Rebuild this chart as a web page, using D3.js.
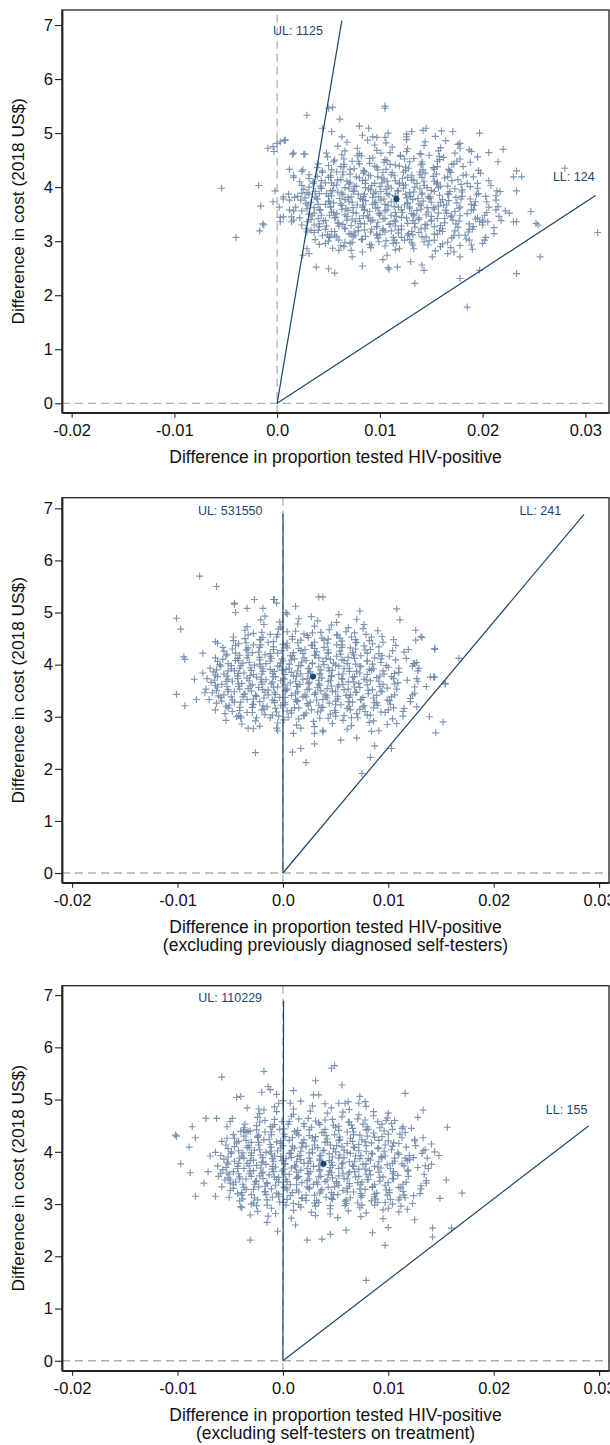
<!DOCTYPE html>
<html><head><meta charset="utf-8">
<script src="https://cdn.jsdelivr.net/npm/d3@7"></script>
<style>
body{margin:0;background:#fff}
svg{display:block}
text{font-family:"Liberation Sans",Arial,Helvetica,sans-serif}
</style>
</head><body>
<svg id="chart" width="610" height="1445"></svg>
<script>
// ---------------- DATA ----------------
const yTicks = [0,1,2,3,4,5,6,7];
const xTicks = [-0.02,-0.01,0,0.01,0.02,0.03];
const xTickLabels = ["-0.02","-0.01","0.0","0.01","0.02","0.03"];
const yTitle = "Difference in cost (2018 US$)";
const xTitles = [
  ["Difference in proportion tested HIV-positive"],
  ["Difference in proportion tested HIV-positive","(excluding previously diagnosed self-testers)"],
  ["Difference in proportion tested HIV-positive","(excluding self-testers on treatment)"]
];
const ulValues = [1125, 531550, 110229];
const llValues = [124, 241, 155];
const ulTopY = [7.08, 6.90, 6.89];        // cost value where the UL ray ends
const llEndX = [0.0310, 0.02857, 0.0290]; // effect value where the LL ray ends
const means = [[0.0116,3.78],[0.00286,3.77],[0.00385,3.77]];

// bootstrap replicates, panel 1
const p1 = [
[.0054,2.87],[.0072,2.83],[.0091,2.88],[.0115,2.84],[.0133,2.86],[.0154,2.82],[.0169,2.88],[.0190,2.85],
[.0047,2.96],[.0062,2.92],[.0073,2.98],[.0090,2.94],[.0105,2.91],[.0116,2.97],[.0132,2.93],[.0143,2.99],[.0161,2.95],[.0178,2.92],[.0200,2.96],
[.0037,3.03],[.0051,3.07],[.0060,3.02],[.0074,3.08],[.0083,3.04],[.0098,3.06],[.0106,3.01],[.0121,3.07],[.0129,3.03],[.0145,3.08],[.0153,3.02],[.0170,3.06],[.0184,3.04],[.0203,3.07],
[.0036,3.16],[.0049,3.12],[.0056,3.18],[.0070,3.14],[.0076,3.11],[.0091,3.17],[.0097,3.13],[.0111,3.19],[.0118,3.15],[.0132,3.12],[.0138,3.16],[.0153,3.13],[.0161,3.18],[.0177,3.11],[.0186,3.17],[.0211,3.14],
[.0028,3.23],[.0041,3.27],[.0047,3.22],[.0060,3.28],[.0066,3.24],[.0079,3.26],[.0085,3.21],[.0097,3.27],[.0103,3.23],[.0115,3.28],[.0121,3.22],[.0134,3.26],[.0140,3.24],[.0153,3.27],[.0161,3.23],[.0176,3.26],[.0187,3.22],[.0211,3.25],
[.0029,3.36],[.0041,3.32],[.0047,3.38],[.0059,3.34],[.0064,3.31],[.0076,3.37],[.0081,3.33],[.0093,3.39],[.0098,3.35],[.0110,3.32],[.0115,3.36],[.0127,3.33],[.0132,3.38],[.0144,3.31],[.0150,3.37],[.0163,3.34],[.0171,3.39],[.0187,3.32],[.0200,3.35],[.0218,3.38],
[.0022,3.43],[.0034,3.47],[.0040,3.42],[.0051,3.48],[.0057,3.44],[.0068,3.46],[.0073,3.41],[.0084,3.47],[.0089,3.43],[.0100,3.48],[.0105,3.42],[.0116,3.46],[.0121,3.44],[.0133,3.47],[.0138,3.43],[.0150,3.46],[.0156,3.42],[.0169,3.45],[.0178,3.47],[.0195,3.43],[.0216,3.46],
[.0024,3.56],[.0036,3.52],[.0042,3.58],[.0053,3.54],[.0058,3.51],[.0069,3.57],[.0074,3.53],[.0085,3.59],[.0090,3.55],[.0100,3.52],[.0105,3.56],[.0115,3.53],[.0121,3.58],[.0131,3.51],[.0136,3.57],[.0147,3.54],[.0153,3.59],[.0165,3.52],[.0173,3.55],[.0189,3.58],[.0204,3.53],[.0222,3.56],
[.0018,3.63],[.0030,3.67],[.0036,3.62],[.0047,3.68],[.0052,3.64],[.0063,3.66],[.0067,3.61],[.0078,3.67],[.0083,3.63],[.0093,3.68],[.0098,3.62],[.0108,3.66],[.0114,3.64],[.0124,3.67],[.0129,3.63],[.0140,3.66],[.0146,3.62],[.0157,3.65],[.0165,3.67],[.0178,3.63],[.0192,3.66],[.0215,3.64],
[.0023,3.76],[.0033,3.72],[.0039,3.78],[.0050,3.74],[.0055,3.71],[.0066,3.77],[.0070,3.73],[.0081,3.79],[.0086,3.75],[.0096,3.72],[.0101,3.76],[.0111,3.73],[.0116,3.78],[.0127,3.71],[.0132,3.77],[.0142,3.74],[.0148,3.79],[.0159,3.72],[.0167,3.75],[.0179,3.78],[.0193,3.73],[.0213,3.76],
[.0020,3.83],[.0031,3.87],[.0037,3.82],[.0048,3.88],[.0053,3.84],[.0064,3.86],[.0069,3.81],[.0079,3.87],[.0084,3.83],[.0094,3.88],[.0099,3.82],[.0109,3.86],[.0115,3.84],[.0125,3.87],[.0130,3.83],[.0141,3.86],[.0147,3.82],[.0158,3.85],[.0167,3.87],[.0180,3.83],[.0194,3.86],[.0213,3.84],
[.0026,3.96],[.0037,3.92],[.0043,3.98],[.0054,3.94],[.0059,3.91],[.0070,3.97],[.0075,3.93],[.0086,3.99],[.0091,3.95],[.0101,3.92],[.0106,3.96],[.0117,3.93],[.0123,3.98],[.0133,3.91],[.0139,3.97],[.0150,3.94],[.0157,3.99],[.0168,3.92],[.0180,3.95],[.0195,3.98],[.0214,3.93],
[.0024,4.03],[.0035,4.07],[.0042,4.02],[.0053,4.08],[.0058,4.04],[.0070,4.06],[.0075,4.01],[.0086,4.07],[.0092,4.03],[.0102,4.08],[.0108,4.02],[.0119,4.06],[.0125,4.04],[.0136,4.07],[.0143,4.03],[.0155,4.06],[.0166,4.02],[.0179,4.05],[.0195,4.07],[.0208,4.03],
[.0031,4.16],[.0043,4.12],[.0050,4.18],[.0062,4.14],[.0068,4.11],[.0080,4.17],[.0086,4.13],[.0098,4.19],[.0104,4.15],[.0115,4.12],[.0122,4.16],[.0133,4.13],[.0141,4.18],[.0153,4.11],[.0163,4.17],[.0176,4.14],[.0191,4.19],[.0206,4.12],
[.0031,4.23],[.0044,4.27],[.0052,4.22],[.0064,4.28],[.0071,4.24],[.0084,4.26],[.0091,4.21],[.0103,4.27],[.0111,4.23],[.0123,4.28],[.0131,4.22],[.0144,4.26],[.0155,4.24],[.0169,4.27],[.0184,4.23],[.0198,4.26],
[.0039,4.36],[.0053,4.32],[.0062,4.38],[.0075,4.34],[.0084,4.31],[.0097,4.37],[.0106,4.33],[.0119,4.39],[.0128,4.35],[.0142,4.32],[.0152,4.36],[.0167,4.33],[.0181,4.38],[.0196,4.31],
[.0040,4.43],[.0055,4.47],[.0065,4.42],[.0079,4.48],[.0090,4.44],[.0104,4.46],[.0115,4.41],[.0129,4.47],[.0141,4.43],[.0156,4.48],[.0170,4.42],[.0188,4.46],
[.0049,4.56],[.0065,4.52],[.0078,4.58],[.0093,4.54],[.0105,4.51],[.0120,4.57],[.0133,4.53],[.0148,4.59],[.0162,4.55],[.0178,4.52],[.0195,4.56],
[.0048,4.63],[.0066,4.67],[.0080,4.62],[.0097,4.68],[.0110,4.64],[.0126,4.66],[.0140,4.61],[.0157,4.67],[.0173,4.63],[.0189,4.66],
[.0059,4.76],[.0078,4.72],[.0095,4.78],[.0112,4.74],[.0127,4.71],[.0143,4.77],[.0159,4.73],[.0176,4.79],
[.0068,4.83],[.0088,4.87],[.0106,4.82],[.0126,4.88],[.0144,4.84],[.0164,4.86],
[.0083,4.96],[.0105,4.92],[.0126,4.98],[.0154,4.94],
[.0050,3.00],[.0066,2.98],[.0082,3.03],[.0099,2.99],[.0114,3.02],[.0131,2.97],[.0148,3.01],[.0166,2.98],
[.0044,3.10],[.0058,3.08],[.0072,3.13],[.0086,3.09],[.0100,3.12],[.0113,3.07],[.0127,3.11],[.0141,3.08],[.0156,3.13],[.0172,3.10],
[.0040,3.20],[.0053,3.18],[.0066,3.23],[.0079,3.19],[.0092,3.22],[.0105,3.17],[.0118,3.21],[.0131,3.18],[.0144,3.23],[.0158,3.20],[.0173,3.19],[.0190,3.22],
[.0036,3.30],[.0048,3.28],[.0060,3.33],[.0072,3.29],[.0085,3.32],[.0097,3.27],[.0109,3.31],[.0121,3.28],[.0134,3.33],[.0146,3.30],[.0159,3.29],[.0174,3.32],[.0191,3.27],
[.0033,3.40],[.0045,3.38],[.0056,3.43],[.0068,3.39],[.0080,3.42],[.0091,3.37],[.0103,3.41],[.0114,3.38],[.0126,3.43],[.0138,3.40],[.0150,3.39],[.0163,3.42],[.0177,3.37],[.0193,3.41],
[.0031,3.50],[.0043,3.48],[.0055,3.53],[.0066,3.49],[.0077,3.52],[.0088,3.47],[.0099,3.51],[.0111,3.48],[.0122,3.53],[.0133,3.50],[.0145,3.49],[.0157,3.52],[.0170,3.47],[.0185,3.51],[.0202,3.48],
[.0029,3.60],[.0041,3.58],[.0052,3.63],[.0063,3.59],[.0074,3.62],[.0085,3.57],[.0096,3.61],[.0107,3.58],[.0118,3.63],[.0129,3.60],[.0140,3.59],[.0152,3.62],[.0164,3.57],[.0177,3.61],[.0191,3.58],[.0206,3.63],
[.0028,3.70],[.0040,3.68],[.0051,3.73],[.0062,3.69],[.0073,3.72],[.0084,3.67],[.0095,3.71],[.0105,3.68],[.0116,3.73],[.0127,3.70],[.0138,3.69],[.0150,3.72],[.0162,3.67],[.0175,3.71],[.0189,3.68],[.0204,3.73],
[.0027,3.80],[.0039,3.78],[.0050,3.83],[.0061,3.79],[.0072,3.82],[.0083,3.77],[.0093,3.81],[.0104,3.78],[.0115,3.83],[.0126,3.80],[.0137,3.79],[.0149,3.82],[.0161,3.77],[.0174,3.81],[.0188,3.78],[.0203,3.83],
[.0029,3.90],[.0041,3.88],[.0052,3.93],[.0063,3.89],[.0074,3.92],[.0085,3.87],[.0096,3.91],[.0107,3.88],[.0118,3.93],[.0129,3.90],[.0141,3.89],[.0153,3.92],[.0166,3.87],[.0180,3.91],[.0196,3.88],
[.0031,4.00],[.0043,3.98],[.0055,4.03],[.0066,3.99],[.0077,4.02],[.0089,3.97],[.0100,4.01],[.0111,3.98],[.0123,4.03],[.0134,4.00],[.0146,3.99],[.0159,4.02],[.0173,3.97],[.0188,4.01],
[.0035,4.10],[.0047,4.08],[.0059,4.13],[.0071,4.09],[.0083,4.12],[.0095,4.07],[.0107,4.11],[.0119,4.08],[.0131,4.13],[.0143,4.10],[.0156,4.09],[.0170,4.12],[.0185,4.07],
[.0039,4.20],[.0052,4.18],[.0064,4.23],[.0077,4.19],[.0089,4.22],[.0102,4.17],[.0114,4.21],[.0127,4.18],[.0139,4.23],[.0152,4.20],[.0166,4.19],[.0181,4.22],
[.0044,4.30],[.0058,4.28],[.0071,4.33],[.0085,4.29],[.0098,4.32],[.0112,4.27],[.0125,4.31],[.0139,4.28],[.0153,4.33],[.0168,4.30],
[.0050,4.40],[.0065,4.38],[.0080,4.43],[.0095,4.39],[.0110,4.42],[.0125,4.37],[.0140,4.41],[.0156,4.38],[.0172,4.43],
[.0056,4.50],[.0073,4.48],[.0090,4.53],[.0107,4.49],[.0124,4.52],[.0141,4.47],[.0158,4.51],[.0175,4.48],
[.0063,4.60],[.0082,4.58],[.0101,4.63],[.0120,4.59],[.0139,4.62],[.0158,4.57],
[.0029,5.33],[.0050,5.46],[.0054,5.48],[.0061,5.26],[.0105,5.50],[.0105,5.46],[.0080,5.13],[.0089,5.09],[.0044,5.09],[.0053,5.03],[.0197,5.00],[.0171,5.03],[.0160,5.04],[.0145,5.09],[.0142,5.05],[.0131,5.03],[.0126,4.93],[.0108,5.00],[.0093,4.93],[.0097,4.92],[.0063,4.93],[.0007,4.87],[.0000,4.81],[.0016,4.63],[.0027,4.61],[.0220,4.70],[.0206,4.64],[.0215,4.47],[.0187,4.69],[.0178,4.81],[.0178,4.72],[.0230,4.19],[.0238,4.19],[.0233,4.30],[.0280,4.35],[.0233,3.93],[.0247,3.55],[.0226,3.52],[.0230,3.36],[.0252,3.33],[.0213,3.58],[.0217,3.92],[.0200,3.39],[.0205,3.36],[.0012,3.76],[.0006,3.82],[.0012,3.58],[.0016,3.39],
[-.0054,3.98],[-.0018,4.03],[-.0016,3.65],[-.0014,3.32],[-.0009,4.72],[-.0004,4.75],[-.0003,4.66],[.0003,4.84],[.0008,4.87],[-.0002,3.93],[-.0004,3.73],[.0002,3.63],[.0006,3.78],[.0011,3.87],[.0017,3.81],[.0016,3.56],[.0014,3.45],[.0003,3.44],[.0006,3.45],[.0012,4.33],[.0016,4.18],[.0016,4.21],[.0015,4.61],[.0024,4.29],[.0025,4.32],[.0022,4.10],[.0024,3.89],[.0026,4.61],
[-.0040,3.07],[-.0017,3.19],[-.0013,3.30],[.0003,3.36],[.0014,3.36],[.0024,3.30],[.0029,3.17],[.0033,3.20],[.0029,2.86],[.0031,2.77],[.0025,2.74],[.0038,2.52],[.0050,2.49],[.0056,2.41],[.0041,2.94],[.0051,3.08],[.0056,3.11],[.0060,2.83],[.0065,2.90],[.0071,2.96],[.0075,3.17],[.0083,2.80],[.0073,2.71],[.0083,2.54],[.0092,2.93],[.0097,3.11],[.0103,3.20],[.0103,2.66],[.0107,2.74],[.0108,2.51],[.0109,2.48],[.0117,2.52],[.0113,2.96],[.0119,2.86],[.0124,3.02],[.0128,3.14],[.0130,2.62],[.0134,2.22],[.0141,2.56],[.0143,2.46],[.0147,2.93],[.0151,2.71],[.0159,2.90],[.0166,2.77],[.0172,2.80],[.0178,2.71],[.0178,2.31],[.0185,1.78],[.0187,3.02],[.0189,2.93],[.0183,3.11],[.0200,3.30],[.0202,3.02],[.0197,3.36],[.0197,2.46],[.0233,3.36],[.0233,2.40],[.0254,3.30],[.0256,2.71],[.0312,3.16]
];

// bootstrap replicates, panel 2
const p2 = [
[-.0028,2.77],[-.0005,2.73],[.0017,2.78],[.0038,2.74],[.0061,2.76],[.0084,2.72],
[-.0039,2.86],[-.0022,2.82],[-.0005,2.88],[.0013,2.84],[.0030,2.81],[.0047,2.87],[.0065,2.83],[.0082,2.89],[.0099,2.85],
[-.0054,2.93],[-.0040,2.97],[-.0026,2.92],[-.0012,2.98],[.0001,2.94],[.0015,2.96],[.0029,2.91],[.0043,2.97],[.0057,2.93],[.0071,2.98],[.0086,2.92],[.0104,2.96],
[-.0055,3.06],[-.0042,3.02],[-.0029,3.08],[-.0017,3.04],[-.0004,3.01],[.0008,3.07],[.0020,3.03],[.0033,3.09],[.0045,3.05],[.0058,3.02],[.0070,3.06],[.0083,3.03],[.0097,3.08],[.0114,3.01],
[-.0064,3.13],[-.0052,3.17],[-.0041,3.12],[-.0029,3.18],[-.0018,3.14],[-.0007,3.16],[.0004,3.11],[.0015,3.17],[.0027,3.13],[.0038,3.18],[.0049,3.12],[.0061,3.16],[.0073,3.14],[.0086,3.17],[.0100,3.13],[.0115,3.16],
[-.0063,3.26],[-.0051,3.22],[-.0040,3.28],[-.0029,3.24],[-.0019,3.21],[-.0008,3.27],[.0002,3.23],[.0013,3.29],[.0023,3.25],[.0034,3.22],[.0044,3.26],[.0055,3.23],[.0066,3.28],[.0077,3.21],[.0089,3.27],[.0102,3.24],[.0121,3.29],
[-.0070,3.33],[-.0059,3.37],[-.0048,3.32],[-.0038,3.38],[-.0028,3.34],[-.0018,3.36],[-.0008,3.31],[.0002,3.37],[.0012,3.33],[.0022,3.38],[.0032,3.32],[.0042,3.36],[.0052,3.34],[.0063,3.37],[.0074,3.33],[.0086,3.36],[.0099,3.32],[.0121,3.35],
[-.0067,3.46],[-.0056,3.42],[-.0046,3.48],[-.0036,3.44],[-.0026,3.41],[-.0017,3.47],[-.0007,3.43],[.0002,3.49],[.0012,3.45],[.0021,3.42],[.0031,3.46],[.0040,3.43],[.0050,3.48],[.0060,3.41],[.0070,3.47],[.0081,3.44],[.0093,3.49],[.0106,3.42],[.0125,3.45],
[-.0073,3.53],[-.0062,3.57],[-.0052,3.52],[-.0042,3.58],[-.0033,3.54],[-.0023,3.56],[-.0014,3.51],[-.0005,3.57],[.0004,3.53],[.0014,3.58],[.0023,3.52],[.0033,3.56],[.0042,3.54],[.0052,3.57],[.0062,3.53],[.0073,3.56],[.0085,3.52],[.0099,3.55],[.0125,3.57],
[-.0068,3.66],[-.0058,3.62],[-.0048,3.68],[-.0039,3.64],[-.0029,3.61],[-.0020,3.67],[-.0011,3.63],[-.0002,3.69],[.0007,3.65],[.0016,3.62],[.0025,3.66],[.0034,3.63],[.0043,3.68],[.0053,3.61],[.0062,3.67],[.0072,3.64],[.0083,3.69],[.0095,3.62],[.0109,3.65],[.0128,3.68],
[-.0072,3.73],[-.0062,3.77],[-.0052,3.72],[-.0043,3.78],[-.0034,3.74],[-.0025,3.76],[-.0016,3.71],[-.0007,3.77],[.0001,3.73],[.0010,3.78],[.0019,3.72],[.0028,3.76],[.0037,3.74],[.0046,3.77],[.0056,3.73],[.0066,3.76],[.0077,3.72],[.0089,3.75],[.0103,3.77],[.0127,3.73],
[-.0066,3.86],[-.0056,3.82],[-.0046,3.88],[-.0037,3.84],[-.0028,3.81],[-.0019,3.87],[-.0010,3.83],[-.0001,3.89],[.0008,3.85],[.0017,3.82],[.0026,3.86],[.0035,3.83],[.0044,3.88],[.0053,3.81],[.0063,3.87],[.0073,3.84],[.0084,3.89],[.0096,3.82],[.0110,3.85],[.0128,3.88],
[-.0069,3.93],[-.0059,3.97],[-.0049,3.92],[-.0040,3.98],[-.0031,3.94],[-.0021,3.96],[-.0012,3.91],[-.0003,3.97],[.0006,3.93],[.0015,3.98],[.0024,3.92],[.0034,3.96],[.0043,3.94],[.0053,3.97],[.0063,3.93],[.0074,3.96],[.0086,3.92],[.0100,3.95],[.0123,3.97],
[-.0062,4.06],[-.0052,4.02],[-.0042,4.08],[-.0032,4.04],[-.0022,4.01],[-.0012,4.07],[-.0002,4.03],[.0008,4.09],[.0018,4.05],[.0028,4.02],[.0038,4.06],[.0048,4.03],[.0058,4.08],[.0069,4.01],[.0080,4.07],[.0093,4.04],[.0107,4.09],[.0124,4.02],
[-.0064,4.13],[-.0054,4.17],[-.0043,4.12],[-.0033,4.18],[-.0022,4.14],[-.0012,4.16],[-.0001,4.11],[.0009,4.17],[.0020,4.13],[.0030,4.18],[.0041,4.12],[.0051,4.16],[.0062,4.14],[.0074,4.17],[.0087,4.13],[.0101,4.16],[.0117,4.12],
[-.0056,4.26],[-.0045,4.22],[-.0034,4.28],[-.0023,4.24],[-.0012,4.21],[-.0001,4.27],[.0010,4.23],[.0021,4.29],[.0032,4.25],[.0043,4.22],[.0054,4.26],[.0066,4.23],[.0078,4.28],[.0091,4.21],[.0104,4.27],[.0115,4.24],
[-.0057,4.33],[-.0045,4.37],[-.0033,4.32],[-.0021,4.38],[-.0009,4.34],[.0003,4.36],[.0015,4.31],[.0027,4.37],[.0039,4.33],[.0051,4.38],[.0064,4.32],[.0077,4.36],[.0091,4.34],[.0107,4.37],
[-.0047,4.46],[-.0035,4.42],[-.0022,4.48],[-.0009,4.44],[.0004,4.41],[.0017,4.47],[.0030,4.43],[.0043,4.49],[.0056,4.45],[.0069,4.42],[.0082,4.46],[.0095,4.43],[.0105,4.48],
[-.0047,4.53],[-.0033,4.57],[-.0019,4.52],[-.0005,4.58],[.0009,4.54],[.0023,4.56],[.0037,4.51],[.0051,4.57],[.0065,4.53],[.0079,4.58],[.0094,4.54],
[-.0036,4.66],[-.0020,4.62],[-.0004,4.68],[.0012,4.64],[.0028,4.61],[.0044,4.67],[.0060,4.63],[.0076,4.69],[.0090,4.65],
[-.0034,4.73],[-.0018,4.77],[-.0002,4.72],[.0014,4.78],[.0030,4.74],[.0046,4.76],[.0062,4.71],[.0077,4.77],
[-.0021,4.86],[-.0003,4.82],[.0015,4.88],[.0033,4.84],[.0051,4.81],[.0070,4.87],
[-.0017,4.93],[.0004,4.97],[.0027,4.92],[.0053,4.96],
[-.0040,3.00],[-.0025,2.98],[-.0010,3.03],[.0005,2.99],[.0020,3.02],[.0035,2.97],[.0050,3.01],[.0065,2.98],[.0080,3.03],
[-.0048,3.10],[-.0034,3.08],[-.0020,3.13],[-.0006,3.09],[.0008,3.12],[.0022,3.07],[.0036,3.11],[.0050,3.08],[.0064,3.13],[.0078,3.10],[.0093,3.09],
[-.0054,3.20],[-.0041,3.18],[-.0028,3.23],[-.0015,3.19],[-.0002,3.22],[.0011,3.17],[.0024,3.21],[.0037,3.18],[.0050,3.23],[.0063,3.20],[.0076,3.19],[.0090,3.22],[.0105,3.17],
[-.0058,3.30],[-.0046,3.28],[-.0034,3.33],[-.0022,3.29],[-.0010,3.32],[.0002,3.27],[.0014,3.31],[.0026,3.28],[.0038,3.33],[.0050,3.30],[.0062,3.29],[.0074,3.32],[.0087,3.27],[.0101,3.31],
[-.0061,3.40],[-.0049,3.38],[-.0037,3.43],[-.0025,3.39],[-.0014,3.42],[-.0003,3.37],[.0008,3.41],[.0019,3.38],[.0030,3.43],[.0041,3.40],[.0052,3.39],[.0064,3.42],[.0076,3.37],[.0089,3.41],[.0103,3.38],
[-.0063,3.50],[-.0052,3.48],[-.0041,3.53],[-.0030,3.49],[-.0019,3.52],[-.0008,3.47],[.0003,3.51],[.0014,3.48],[.0025,3.53],[.0036,3.50],[.0047,3.49],[.0058,3.52],[.0069,3.47],[.0081,3.51],[.0094,3.48],[.0108,3.53],
[-.0064,3.60],[-.0053,3.58],[-.0042,3.63],[-.0031,3.59],[-.0020,3.62],[-.0009,3.57],[.0002,3.61],[.0013,3.58],[.0024,3.63],[.0035,3.60],[.0046,3.59],[.0057,3.62],[.0068,3.57],[.0080,3.61],[.0092,3.58],[.0106,3.63],
[-.0065,3.70],[-.0054,3.68],[-.0043,3.73],[-.0032,3.69],[-.0021,3.72],[-.0010,3.67],[.0001,3.71],[.0012,3.68],[.0023,3.73],[.0034,3.70],[.0045,3.69],[.0056,3.72],[.0067,3.67],[.0079,3.71],[.0091,3.68],[.0105,3.73],[.0118,3.70],
[-.0064,3.80],[-.0053,3.78],[-.0042,3.83],[-.0031,3.79],[-.0020,3.82],[-.0009,3.77],[.0002,3.81],[.0013,3.78],[.0024,3.83],[.0035,3.80],[.0046,3.79],[.0057,3.82],[.0068,3.77],[.0080,3.81],[.0092,3.78],[.0106,3.83],
[-.0063,3.90],[-.0052,3.88],[-.0041,3.93],[-.0030,3.89],[-.0019,3.92],[-.0008,3.87],[.0003,3.91],[.0014,3.88],[.0025,3.93],[.0036,3.90],[.0047,3.89],[.0058,3.92],[.0070,3.87],[.0082,3.91],[.0095,3.88],[.0110,3.93],
[-.0060,4.00],[-.0049,3.98],[-.0038,4.03],[-.0027,3.99],[-.0016,4.02],[-.0005,3.97],[.0006,4.01],[.0017,3.98],[.0028,4.03],[.0039,4.00],[.0050,3.99],[.0061,4.02],[.0073,3.97],[.0085,4.01],[.0098,3.98],
[-.0057,4.10],[-.0045,4.08],[-.0034,4.13],[-.0022,4.09],[-.0011,4.12],[.0000,4.07],[.0011,4.11],[.0022,4.08],[.0034,4.13],[.0045,4.10],[.0056,4.09],[.0068,4.12],[.0080,4.07],[.0093,4.11],
[-.0053,4.20],[-.0041,4.18],[-.0029,4.23],[-.0017,4.19],[-.0005,4.22],[.0007,4.17],[.0019,4.21],[.0031,4.18],[.0043,4.23],[.0055,4.20],[.0067,4.19],[.0080,4.22],[.0094,4.17],
[-.0048,4.30],[-.0035,4.28],[-.0022,4.33],[-.0009,4.29],[.0004,4.32],[.0017,4.27],[.0030,4.31],[.0043,4.28],[.0056,4.33],[.0069,4.30],[.0083,4.29],
[-.0042,4.40],[-.0028,4.38],[-.0014,4.43],[.0000,4.39],[.0014,4.42],[.0028,4.37],[.0042,4.41],[.0056,4.38],[.0070,4.43],[.0085,4.40],
[-.0036,4.50],[-.0021,4.48],[-.0006,4.53],[.0009,4.49],[.0024,4.52],[.0039,4.47],[.0054,4.51],[.0069,4.48],[.0084,4.53],
[-.0028,4.60],[-.0012,4.58],[.0004,4.63],[.0020,4.59],[.0036,4.62],[.0052,4.57],[.0068,4.61],
[-.0026,2.31],[.0009,2.32],[.0017,2.39],[.0022,2.12],[.0030,2.48],[.0075,1.91],[.0083,2.22],[.0087,2.44],[.0103,2.39],[.0145,2.69],[.0152,2.90],[.0139,3.00],[.0154,3.63],[.0143,3.76],[.0144,4.29],[.0167,4.12],[.0108,5.07],[.0111,4.86],[.0126,4.66],[.0073,5.03],[.0034,5.30],[.0038,5.30],[-.0046,5.18],[-.0027,5.25],[-.0009,5.25],[.0012,5.12],[.0127,4.04],[.0129,3.93],[.0126,4.47],[.0132,4.52],[.0119,4.29],[.0131,4.54],[.0144,4.31],[.0125,4.02],[.0144,3.76],[.0154,3.64],
[-.0079,5.70],[-.0063,5.50],[-.0101,4.89],[-.0097,4.68],[-.0094,4.15],[-.0093,4.10],[-.0101,3.43],[-.0093,3.21],[-.0084,3.72],[-.0082,3.33],[-.0074,3.46],[-.0076,4.22],[-.0076,3.84],[-.0064,4.44],[-.0062,4.41],[-.0046,5.16],[-.0045,5.00],[-.0034,5.08],[-.0019,5.08],[-.0008,5.25],[-.0006,5.18],[.0003,5.00],
[.0010,2.68],[.0030,2.68],[.0038,2.71],[.0055,2.55],[.0070,2.59],[.0091,2.73],[-.0006,2.78],[-.0033,2.78],[-.0044,3.00],[.0108,2.87],[.0114,3.10],[.0123,3.42],[.0127,3.19],[.0136,3.58],[.0140,3.76]
];

// bootstrap replicates, panel 3
const p3 = [
[-.0014,2.77],[.0008,2.73],[.0031,2.78],[.0052,2.74],[.0074,2.76],[.0095,2.72],
[-.0024,2.86],[-.0007,2.82],[.0010,2.88],[.0027,2.84],[.0045,2.81],[.0062,2.87],[.0079,2.83],[.0095,2.89],[.0110,2.85],
[-.0039,2.93],[-.0025,2.97],[-.0011,2.92],[.0003,2.98],[.0017,2.94],[.0031,2.96],[.0045,2.91],[.0059,2.97],[.0073,2.93],[.0087,2.98],[.0100,2.92],[.0112,2.96],
[-.0041,3.06],[-.0028,3.02],[-.0015,3.08],[-.0003,3.04],[.0010,3.01],[.0022,3.07],[.0034,3.03],[.0047,3.09],[.0059,3.05],[.0071,3.02],[.0084,3.06],[.0097,3.03],[.0110,3.08],[.0123,3.01],
[-.0051,3.13],[-.0039,3.17],[-.0027,3.12],[-.0016,3.18],[-.0004,3.14],[.0007,3.16],[.0018,3.11],[.0030,3.17],[.0041,3.13],[.0052,3.18],[.0064,3.12],[.0075,3.16],[.0087,3.14],[.0099,3.17],[.0111,3.13],[.0124,3.16],
[-.0050,3.26],[-.0039,3.22],[-.0028,3.28],[-.0017,3.24],[-.0006,3.21],[.0004,3.27],[.0015,3.23],[.0025,3.29],[.0036,3.25],[.0046,3.22],[.0057,3.26],[.0067,3.23],[.0078,3.28],[.0089,3.21],[.0101,3.27],[.0114,3.24],[.0131,3.29],
[-.0058,3.33],[-.0047,3.37],[-.0037,3.32],[-.0027,3.38],[-.0017,3.34],[-.0007,3.36],[.0003,3.31],[.0013,3.37],[.0023,3.33],[.0033,3.38],[.0043,3.32],[.0053,3.36],[.0063,3.34],[.0074,3.37],[.0085,3.33],[.0097,3.36],[.0110,3.32],[.0131,3.35],
[-.0055,3.46],[-.0045,3.42],[-.0035,3.48],[-.0025,3.44],[-.0015,3.41],[-.0006,3.47],[.0004,3.43],[.0013,3.49],[.0023,3.45],[.0032,3.42],[.0042,3.46],[.0051,3.43],[.0061,3.48],[.0071,3.41],[.0081,3.47],[.0092,3.44],[.0104,3.49],[.0117,3.42],[.0136,3.45],
[-.0061,3.53],[-.0051,3.57],[-.0041,3.52],[-.0032,3.58],[-.0022,3.54],[-.0013,3.56],[-.0004,3.51],[.0006,3.57],[.0015,3.53],[.0024,3.58],[.0034,3.52],[.0043,3.56],[.0053,3.54],[.0062,3.57],[.0072,3.53],[.0083,3.56],[.0095,3.52],[.0109,3.55],[.0134,3.57],
[-.0057,3.66],[-.0047,3.62],[-.0037,3.68],[-.0028,3.64],[-.0019,3.61],[-.0010,3.67],[-.0001,3.63],[.0008,3.69],[.0017,3.65],[.0026,3.62],[.0035,3.66],[.0044,3.63],[.0053,3.68],[.0063,3.61],[.0072,3.67],[.0082,3.64],[.0093,3.69],[.0105,3.62],[.0119,3.65],[.0138,3.68],
[-.0062,3.73],[-.0052,3.77],[-.0043,3.72],[-.0034,3.78],[-.0025,3.74],[-.0016,3.76],[-.0007,3.71],[.0002,3.77],[.0011,3.73],[.0020,3.78],[.0029,3.72],[.0038,3.76],[.0047,3.74],[.0056,3.77],[.0066,3.73],[.0076,3.76],[.0087,3.72],[.0099,3.75],[.0113,3.77],[.0135,3.73],
[-.0056,3.86],[-.0046,3.82],[-.0037,3.88],[-.0028,3.84],[-.0019,3.81],[-.0010,3.87],[-.0001,3.83],[.0008,3.89],[.0017,3.85],[.0026,3.82],[.0035,3.86],[.0044,3.83],[.0053,3.88],[.0063,3.81],[.0073,3.87],[.0083,3.84],[.0094,3.89],[.0106,3.82],[.0120,3.85],[.0137,3.88],
[-.0059,3.93],[-.0049,3.97],[-.0039,3.92],[-.0030,3.98],[-.0021,3.94],[-.0011,3.96],[-.0002,3.91],[.0007,3.97],[.0016,3.93],[.0025,3.98],[.0035,3.92],[.0044,3.96],[.0054,3.94],[.0064,3.97],[.0074,3.93],[.0085,3.96],[.0097,3.92],[.0110,3.95],[.0132,3.97],
[-.0052,4.06],[-.0042,4.02],[-.0032,4.08],[-.0022,4.04],[-.0012,4.01],[-.0002,4.07],[.0008,4.03],[.0018,4.09],[.0028,4.05],[.0038,4.02],[.0048,4.06],[.0058,4.03],[.0068,4.08],[.0079,4.01],[.0090,4.07],[.0103,4.04],[.0117,4.09],[.0133,4.02],
[-.0054,4.13],[-.0044,4.17],[-.0033,4.12],[-.0023,4.18],[-.0012,4.14],[-.0002,4.16],[.0009,4.11],[.0019,4.17],[.0030,4.13],[.0040,4.18],[.0051,4.12],[.0061,4.16],[.0072,4.14],[.0084,4.17],[.0097,4.13],[.0110,4.16],[.0126,4.12],
[-.0046,4.26],[-.0035,4.22],[-.0024,4.28],[-.0013,4.24],[-.0002,4.21],[.0009,4.27],[.0020,4.23],[.0031,4.29],[.0042,4.25],[.0053,4.22],[.0064,4.26],[.0075,4.23],[.0087,4.28],[.0100,4.21],[.0113,4.27],[.0125,4.24],
[-.0047,4.33],[-.0035,4.37],[-.0023,4.32],[-.0011,4.38],[.0001,4.34],[.0013,4.36],[.0025,4.31],[.0037,4.37],[.0049,4.33],[.0061,4.38],[.0073,4.32],[.0086,4.36],[.0100,4.34],[.0116,4.37],
[-.0037,4.46],[-.0025,4.42],[-.0012,4.48],[.0001,4.44],[.0014,4.41],[.0027,4.47],[.0040,4.43],[.0053,4.49],[.0066,4.45],[.0079,4.42],[.0092,4.46],[.0104,4.43],[.0114,4.48],
[-.0036,4.53],[-.0022,4.57],[-.0008,4.52],[.0006,4.58],[.0020,4.54],[.0034,4.56],[.0048,4.51],[.0062,4.57],[.0076,4.53],[.0090,4.58],[.0103,4.54],
[-.0024,4.66],[-.0008,4.62],[.0008,4.68],[.0024,4.64],[.0040,4.61],[.0056,4.67],[.0071,4.63],[.0086,4.69],[.0099,4.65],
[-.0022,4.73],[-.0006,4.77],[.0010,4.72],[.0026,4.78],[.0042,4.74],[.0057,4.76],[.0072,4.71],[.0086,4.77],
[-.0008,4.86],[.0010,4.82],[.0028,4.88],[.0046,4.84],[.0063,4.81],[.0079,4.87],
[-.0004,4.93],[.0017,4.97],[.0040,4.92],[.0062,4.96],
[-.0030,3.00],[-.0015,2.98],[.0000,3.03],[.0015,2.99],[.0030,3.02],[.0045,2.97],[.0060,3.01],[.0075,2.98],[.0090,3.03],[.0104,3.00],
[-.0038,3.10],[-.0024,3.08],[-.0010,3.13],[.0004,3.09],[.0018,3.12],[.0032,3.07],[.0046,3.11],[.0060,3.08],[.0074,3.13],[.0088,3.10],[.0102,3.09],[.0116,3.12],
[-.0043,3.20],[-.0030,3.18],[-.0017,3.23],[-.0004,3.19],[.0009,3.22],[.0022,3.17],[.0035,3.21],[.0048,3.18],[.0061,3.23],[.0074,3.20],[.0087,3.19],[.0101,3.22],[.0115,3.17],
[-.0047,3.30],[-.0035,3.28],[-.0023,3.33],[-.0011,3.29],[.0001,3.32],[.0013,3.27],[.0025,3.31],[.0037,3.28],[.0049,3.33],[.0061,3.30],[.0073,3.29],[.0085,3.32],[.0098,3.27],[.0112,3.31],
[-.0050,3.40],[-.0038,3.38],[-.0026,3.43],[-.0015,3.39],[-.0004,3.42],[.0007,3.37],[.0018,3.41],[.0029,3.38],[.0040,3.43],[.0051,3.40],[.0063,3.39],[.0075,3.42],[.0087,3.37],[.0100,3.41],[.0114,3.38],
[-.0052,3.50],[-.0041,3.48],[-.0030,3.53],[-.0019,3.49],[-.0008,3.52],[.0003,3.47],[.0014,3.51],[.0025,3.48],[.0036,3.53],[.0047,3.50],[.0058,3.49],[.0069,3.52],[.0080,3.47],[.0092,3.51],[.0105,3.48],[.0119,3.53],
[-.0053,3.60],[-.0042,3.58],[-.0031,3.63],[-.0020,3.59],[-.0009,3.62],[.0002,3.57],[.0013,3.61],[.0024,3.58],[.0035,3.63],[.0046,3.60],[.0057,3.59],[.0068,3.62],[.0079,3.57],[.0091,3.61],[.0104,3.58],[.0118,3.63],
[-.0054,3.70],[-.0043,3.68],[-.0032,3.73],[-.0021,3.69],[-.0010,3.72],[.0001,3.67],[.0012,3.71],[.0023,3.68],[.0034,3.73],[.0045,3.70],[.0056,3.69],[.0067,3.72],[.0078,3.67],[.0090,3.71],[.0102,3.68],[.0115,3.73],[.0128,3.70],
[-.0053,3.80],[-.0042,3.78],[-.0031,3.83],[-.0020,3.79],[-.0009,3.82],[.0002,3.77],[.0013,3.81],[.0024,3.78],[.0035,3.83],[.0046,3.80],[.0057,3.79],[.0068,3.82],[.0079,3.77],[.0091,3.81],[.0104,3.78],[.0118,3.83],
[-.0052,3.90],[-.0041,3.88],[-.0030,3.93],[-.0019,3.89],[-.0008,3.92],[.0003,3.87],[.0014,3.91],[.0025,3.88],[.0036,3.93],[.0047,3.90],[.0058,3.89],[.0069,3.92],[.0081,3.87],[.0093,3.91],[.0106,3.88],[.0120,3.93],
[-.0049,4.00],[-.0038,3.98],[-.0027,4.03],[-.0016,3.99],[-.0005,4.02],[.0006,3.97],[.0017,4.01],[.0028,3.98],[.0039,4.03],[.0050,4.00],[.0061,3.99],[.0072,4.02],[.0084,3.97],[.0096,4.01],[.0109,3.98],
[-.0046,4.10],[-.0034,4.08],[-.0023,4.13],[-.0011,4.09],[.0000,4.12],[.0011,4.07],[.0022,4.11],[.0033,4.08],[.0045,4.13],[.0056,4.10],[.0067,4.09],[.0079,4.12],[.0091,4.07],[.0104,4.11],
[-.0042,4.20],[-.0030,4.18],[-.0018,4.23],[-.0006,4.19],[.0006,4.22],[.0018,4.17],[.0030,4.21],[.0042,4.18],[.0054,4.23],[.0066,4.20],[.0078,4.19],[.0091,4.22],[.0105,4.17],
[-.0037,4.30],[-.0024,4.28],[-.0011,4.33],[.0002,4.29],[.0015,4.32],[.0028,4.27],[.0041,4.31],[.0054,4.28],[.0067,4.33],[.0080,4.30],[.0094,4.29],
[-.0031,4.40],[-.0017,4.38],[-.0003,4.43],[.0011,4.39],[.0025,4.42],[.0039,4.37],[.0053,4.41],[.0067,4.38],[.0081,4.43],[.0096,4.40],
[-.0025,4.50],[-.0010,4.48],[.0005,4.53],[.0020,4.49],[.0035,4.52],[.0050,4.47],[.0065,4.51],[.0080,4.48],[.0094,4.53],
[-.0017,4.60],[-.0001,4.58],[.0015,4.63],[.0031,4.59],[.0047,4.62],[.0063,4.57],[.0078,4.61],
[-.0058,5.43],[-.0018,5.54],[.0010,5.17],[-.0020,5.14],[-.0012,5.19],[-.0014,5.25],[-.0044,5.04],[-.0040,5.06],[-.0034,4.84],[-.0023,4.82],[-.0018,4.80],[-.0006,5.10],[.0000,4.98],[.0007,4.93],[-.0073,4.64],[-.0063,4.64],[-.0086,4.48],[-.0083,4.27],[-.0101,4.30],[-.0089,4.09],[-.0097,3.77],[-.0069,3.92],[-.0064,3.99],[-.0048,4.64],[-.0050,4.58],[-.0053,4.48],[-.0040,4.39],[-.0037,4.42],[-.0033,4.39],[-.0058,4.20],[-.0053,4.26],[-.0071,3.62],[-.0059,3.59],
[.0046,5.60],[.0049,5.65],[.0031,5.36],[.0056,5.28],[.0029,5.09],[.0034,5.09],[.0116,5.12],[.0133,4.80],[.0128,4.66],[.0156,4.47],[.0100,4.74],[.0106,4.60],[.0098,4.60],[.0122,4.45],[.0113,4.45],[.0111,4.34],[.0133,4.27],[.0125,4.21],[.0141,4.15],[.0135,4.04],[.0144,4.00],[.0148,3.93],[.0141,3.76],[.0124,3.89],[.0116,3.88],[.0073,5.06],[.0072,4.93],[.0078,4.96],[.0059,4.93],[.0053,4.93],
[-.0031,2.31],[-.0005,2.48],[.0023,2.31],[.0037,2.33],[.0079,1.54],[.0097,2.21],[.0142,2.37],[.0142,2.54],[.0160,2.54],[.0170,3.21],[.0149,3.11],[.0155,3.46],[-.0083,3.15],[-.0064,3.15],[-.0050,3.46],[-.0031,2.79],[-.0102,4.32],[.0136,3.40],[.0130,3.20],[.0118,2.90],[.0125,2.70],[.0100,2.55],[.0085,2.45],[.0060,2.50],[.0045,2.42],[.0012,2.60],[-.0015,2.65],[-.0040,2.95],[-.0075,3.40],[-.0088,3.60]
];
const replicates = [p1, p2, p3];

// ---------------- LAYOUT ----------------
const W = 610, L = 62, R = 609;
const panels = [
  {top:10,    bottom:412.7,  xDom:[-0.02094,0.0323], yDom:[-0.174,7.278],
   ulLab:{x:-0.0004,y:6.815,anchor:"start"}, llLab:{x:0.0309,y:4.11,anchor:"end"}},
  {top:497.7, bottom:882.7,  xDom:[-0.02096,0.03094], yDom:[-0.186,7.204],
   ulLab:{x:-0.0050,y:6.87,anchor:"middle"}, llLab:{x:0.0264,y:6.87,anchor:"end"}},
  {top:985.7, bottom:1370.7, xDom:[-0.02096,0.03094], yDom:[-0.19,7.18],
   ulLab:{x:-0.0050,y:6.87,anchor:"middle"}, llLab:{x:0.0289,y:4.73,anchor:"end"}}
];
const NAVY = "#1a476f", MARK = "#7089a8", REF = "#b0b0b0";

const svg = d3.select("#chart");
svg.append("rect").attr("width",W).attr("height",1445).attr("fill","#fff");

panels.forEach((P, i) => {
  const x = d3.scaleLinear().domain(P.xDom).range([L, R]);
  const y = d3.scaleLinear().domain(P.yDom).range([P.bottom, P.top]);
  const g = svg.append("g");
  const clipId = "clip" + i;
  g.append("clipPath").attr("id", clipId).append("rect")
    .attr("x", L).attr("y", P.top).attr("width", R - L).attr("height", P.bottom - P.top);
  const plot = g.append("g").attr("clip-path", `url(#${clipId})`);

  // reference lines
  plot.append("line").attr("x1", L).attr("x2", R).attr("y1", y(0)).attr("y2", y(0))
    .attr("stroke", REF).attr("stroke-width", 1.3).attr("stroke-dasharray", "8,5");
  plot.append("line").attr("x1", x(0)).attr("x2", x(0)).attr("y1", P.bottom).attr("y2", P.top)
    .attr("stroke", REF).attr("stroke-width", 1.3).attr("stroke-dasharray", "8,5");

  // replicates
  plot.append("g").selectAll("path").data(replicates[i]).join("path")
    .attr("transform", d => `translate(${x(d[0])},${y(d[1])})`)
    .attr("d", "M-3.5,0H3.5M0,-3.5V3.5")
    .attr("fill", "none").attr("stroke", MARK).attr("stroke-width", 1.15).attr("opacity", 0.9);

  // UL and LL rays
  const ulEnd = [ulTopY[i] / ulValues[i], ulTopY[i]];
  const llEnd = [llEndX[i], llEndX[i] * llValues[i]];
  [ulEnd, llEnd].forEach(e => {
    plot.append("line").attr("x1", x(0)).attr("y1", y(0)).attr("x2", x(e[0])).attr("y2", y(e[1]))
      .attr("stroke", NAVY).attr("stroke-width", 1.2);
  });

  // mean point
  plot.append("circle").attr("cx", x(means[i][0])).attr("cy", y(means[i][1])).attr("r", 3)
    .attr("fill", NAVY);

  // labels
  g.append("text").attr("x", x(P.ulLab.x)).attr("y", y(P.ulLab.y)).attr("text-anchor", P.ulLab.anchor)
    .attr("font-size", 12.5).attr("fill", NAVY).text("UL: " + ulValues[i]);
  g.append("text").attr("x", x(P.llLab.x)).attr("y", y(P.llLab.y)).attr("text-anchor", P.llLab.anchor)
    .attr("font-size", 12.5).attr("fill", NAVY).text("LL: " + llValues[i]);

  // frame
  g.append("rect").attr("x", L).attr("y", P.top).attr("width", R - L).attr("height", P.bottom - P.top)
    .attr("fill", "none").attr("stroke", "#222").attr("stroke-width", 1.3);

  // axes
  const ya = g.append("g").attr("transform", `translate(${L},0)`)
    .call(d3.axisLeft(y).tickValues(yTicks).tickFormat(d3.format("d")).tickSize(7).tickPadding(2).tickSizeOuter(0));
  const xa = g.append("g").attr("transform", `translate(0,${P.bottom})`)
    .call(d3.axisBottom(x).tickValues(xTicks).tickFormat((d, k) => xTickLabels[k]).tickSize(5).tickPadding(7).tickSizeOuter(0));
  [ya, xa].forEach(a => {
    a.select(".domain").attr("stroke", "#222").attr("stroke-width", 1.8);
    a.selectAll(".tick line").attr("stroke", "#222").attr("stroke-width", 1.1);
    a.selectAll(".tick text").attr("font-size", 16.5).attr("fill", "#111")
      .attr("font-family", '"Liberation Sans",Arial,sans-serif');
  });

  // axis titles
  g.append("text").attr("transform", `translate(24,${(P.top + P.bottom) / 2}) rotate(-90)`)
    .attr("text-anchor", "middle").attr("font-size", 17.3).attr("fill", "#111").text(yTitle);
  xTitles[i].forEach((t, k) => {
    g.append("text").attr("x", (L + R) / 2).attr("y", P.bottom + 50.5 + k * 18)
      .attr("text-anchor", "middle").attr("font-size", 17.5).attr("fill", "#111").text(t);
  });
});
</script>
</body></html>
